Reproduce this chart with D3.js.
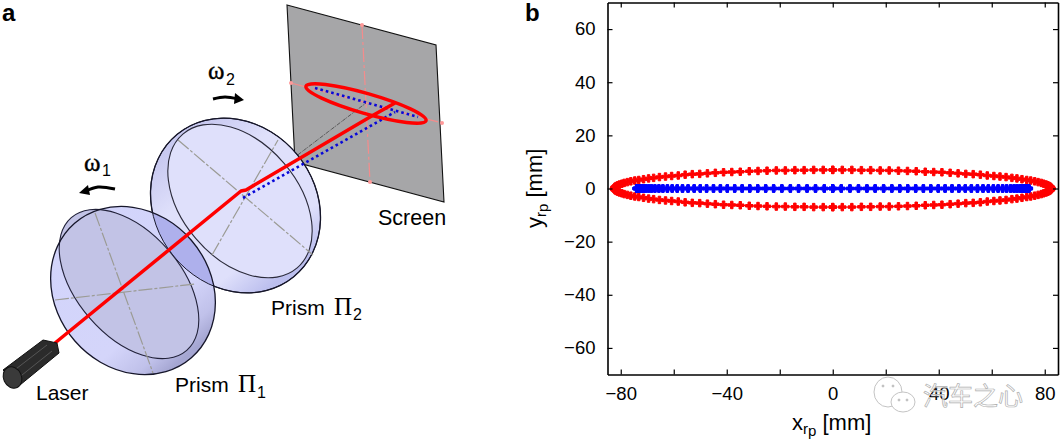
<!DOCTYPE html>
<html>
<head>
<meta charset="utf-8">
<script src="https://cdn.jsdelivr.net/npm/d3@7"></script>
<style>
  html, body { margin: 0; padding: 0; background: #fff; }
  svg { display: block; }
  text { font-family: "Liberation Sans", Arial, sans-serif; fill: #000; }
</style>
</head>
<body>
<svg id="chart" width="1060" height="440"></svg>
<script>
// panel b values, one quadrant of each trace in mm (the traces are symmetric)
const redX = [82.5, 82.4, 82.2, 81.8, 81.2, 80.5, 79.6, 78.7, 77.5, 76.2, 74.7, 73.2, 71.4, 69.5, 67.6, 65.4, 63.1, 60.8, 58.3, 55.7, 53.0, 50.2, 47.3, 44.3, 41.2, 38.1, 34.9, 31.5, 28.2, 24.8, 21.3, 17.9, 14.3, 10.8, 7.2, 3.6, 0];
const redY = [0, 0.3, 0.6, 0.9, 1.2, 1.5, 1.8, 2.1, 2.4, 2.7, 3.0, 3.2, 3.5, 3.8, 4.0, 4.3, 4.5, 4.7, 4.9, 5.2, 5.4, 5.5, 5.7, 5.9, 6.1, 6.2, 6.3, 6.5, 6.6, 6.7, 6.8, 6.8, 6.9, 6.9, 7.0, 7.0, 7.0];
const blueX = [74.0, 73.9, 73.7, 73.4, 72.9, 72.2, 71.5, 70.6, 69.5, 68.4, 67.1, 65.6, 64.1, 62.4, 60.6, 58.7, 56.7, 54.6, 52.3, 50.0, 47.6, 45.0, 42.4, 39.8, 37.0, 34.2, 31.3, 28.3, 25.3, 22.3, 19.2, 16.0, 12.9, 9.7, 6.5, 3.2, 0];
const xTicks = [-80, -60, -40, -20, 0, 20, 40, 60, 80];
const xLabels = [-80, -40, 0, 40, 80];
const yTicks = [-60, -40, -20, 0, 20, 40, 60];

// panel a outlines, in picture pixels
const screenCorners = [[287, 5], [436, 45], [444, 202], [295, 162]];
const prism2Outer = { cx: 235.5, cy: 205.5, rx: 92, ry: 80, angle: 50.7 };
const prism2Inner = { cx: 240, cy: 201, rx: 88, ry: 58, angle: 49.5 };
const prism1Outer = { cx: 133, cy: 290.5, rx: 89, ry: 77, angle: 49 };
const prism1Inner = { cx: 129, cy: 284, rx: 88, ry: 52, angle: 49 };
const crossLines = [
  [[178, 140], [313, 255]], [[212, 255], [278, 140]],
  [[55, 300], [195, 284]], [[95, 213], [153, 373]]
];
const pinkLines = [[[362, 25], [370, 182]], [[291, 83], [442, 123]]];
const redBeam = [[55, 343], [241, 191], [246, 190], [370, 117], [395, 103]];
const blueBeam = [[243, 198], [395, 112]];
const blueOnScreen = [[315, 88], [418, 117]];
const thinBeam = [[178, 240], [243, 192], [295, 157], [366, 103]];
const laserBody = [[3, 370], [43, 340], [57, 343], [59, 353], [20, 385]];

const svg = d3.select('#chart');
const line = d3.line();
const openCurve = d3.line().curve(d3.curveCatmullRom.alpha(0.5));

const defs = svg.append('defs');
function addGradient(id, stops) {
  const g = defs.append('linearGradient').attr('id', id)
    .attr('gradientUnits', 'userSpaceOnUse')
    .attr('x1', stops[0][0]).attr('x2', stops[stops.length - 1][0])
    .attr('y1', 0).attr('y2', 0);
  const span = stops[stops.length - 1][0] - stops[0][0];
  stops.forEach(s => g.append('stop')
    .attr('offset', (s[0] - stops[0][0]) / span)
    .attr('stop-color', s[1]));
}
addGradient('side2', [[151, '#c8c9f0'], [200, '#dfe0fb'], [285, '#dfe0fb'], [320, '#bcbfee']]);
addGradient('side1', [[48, '#d2d4fb'], [165, '#d4d5fa'], [198, '#c0c1ea'], [217, '#a5a6d2']]);

function disc(parent, e) {
  return parent.append('ellipse')
    .attr('cx', e.cx).attr('cy', e.cy).attr('rx', e.rx).attr('ry', e.ry)
    .attr('transform', `rotate(${e.angle} ${e.cx} ${e.cy})`);
}
disc(defs.append('clipPath').attr('id', 'inPrism2'), prism2Outer);

// ---------- panel a ----------
const a = svg.append('g');

a.append('path').attr('d', line(screenCorners) + 'Z')
  .attr('fill', '#a6a6a8').attr('stroke', '#111').attr('stroke-width', 1.1);

pinkLines.forEach(l => {
  a.append('path').attr('d', line(l)).attr('fill', 'none')
    .attr('stroke', '#f48c8c').attr('stroke-width', 1.2).attr('stroke-dasharray', '14 3 3 3');
  l.forEach(p => a.append('circle').attr('cx', p[0]).attr('cy', p[1]).attr('r', 2).attr('fill', '#f99'));
});

a.append('path').attr('d', line(thinBeam)).attr('fill', 'none')
  .attr('stroke', '#222').attr('stroke-width', 0.6).attr('stroke-dasharray', '4 1 1 1');

// Prism 2 sits behind prism 1
disc(a, prism2Outer).attr('fill', 'url(#side2)').attr('stroke', '#16162a').attr('stroke-width', 1.3);
disc(a, prism2Inner).attr('fill', '#dfe0fb').attr('stroke', '#2a2a3a').attr('stroke-width', 1.1);

disc(a, prism1Outer).attr('fill', 'url(#side1)');
// the part of prism 1 that overlaps prism 2 is darker
a.append('g').attr('clip-path', 'url(#inPrism2)').call(g => disc(g, prism1Outer).attr('fill', '#aeb0ec'));
disc(a, prism2Outer).attr('fill', 'none').attr('stroke', '#16162a').attr('stroke-width', 0.9);
disc(a, prism1Inner).attr('fill', '#c2c3e6').attr('stroke', '#22223a').attr('stroke-width', 1.1);
disc(a, prism1Outer).attr('fill', 'none').attr('stroke', '#16162a').attr('stroke-width', 1.3);

crossLines.forEach(l => a.append('path').attr('d', line(l))
  .attr('stroke', '#9b9b94').attr('stroke-width', 1.2).attr('stroke-dasharray', '14 2 3 2'));

// Beams and their spots
a.append('path').attr('d', line(blueBeam)).attr('fill', 'none')
  .attr('stroke', '#0808d8').attr('stroke-width', 2.6).attr('stroke-dasharray', '2.6 3');
a.append('path').attr('d', line(blueOnScreen)).attr('fill', 'none')
  .attr('stroke', '#0808d8').attr('stroke-width', 2.6).attr('stroke-dasharray', '2.6 3');
a.append('ellipse').attr('cx', 366).attr('cy', 103.5).attr('rx', 62.5).attr('ry', 10)
  .attr('transform', 'rotate(16 366 103.5)')
  .attr('fill', 'none').attr('stroke', '#f00').attr('stroke-width', 3.4);
a.append('path').attr('d', line(redBeam)).attr('fill', 'none')
  .attr('stroke', '#f00').attr('stroke-width', 3.5).attr('stroke-linejoin', 'round');

// Laser
a.append('path').attr('d', line(laserBody) + 'Z').attr('fill', '#2b2b2b').attr('stroke', '#111');
[[[12, 372], [47, 345]], [[17, 379], [52, 351]]].forEach(l =>
  a.append('path').attr('d', line(l)).attr('stroke', '#555').attr('stroke-width', 1));
a.append('ellipse').attr('cx', 12.5).attr('cy', 377.5).attr('rx', 9).attr('ry', 11)
  .attr('transform', 'rotate(-25 12.5 377.5)')
  .attr('fill', '#3a3a3a').attr('stroke', '#111');

// Rotation arrows
a.append('path').attr('d', openCurve([[213, 99], [225, 97], [238, 99]]))
  .attr('fill', 'none').attr('stroke', '#000').attr('stroke-width', 3);
a.append('path').attr('d', line([[235, 93], [244, 100], [234, 104]]) + 'Z').attr('fill', '#000');
a.append('path').attr('d', openCurve([[115, 189], [98, 187], [86, 191]]))
  .attr('fill', 'none').attr('stroke', '#000').attr('stroke-width', 3);
a.append('path').attr('d', line([[88, 185], [79, 193], [90, 195]]) + 'Z').attr('fill', '#000');

// Text of panel a
function label(x, y, size, str, family, weight) {
  return svg.append('text').attr('x', x).attr('y', y).attr('font-size', size)
    .style('font-family', family || null).attr('font-weight', weight || null).text(str);
}
const serif = '"Liberation Serif", serif';
label(2, 20.5, 24, 'a', null, 'bold');
label(525, 20.5, 24, 'b', null, 'bold');
label(208, 79, 25, 'ω', serif).attr('stroke', '#000').attr('stroke-width', 0.4);
label(226, 85, 16, '2');
label(84, 170.5, 25, 'ω', serif).attr('stroke', '#000').attr('stroke-width', 0.4);
label(102, 176, 16, '1');
label(36, 400, 21, 'Laser');
label(378, 225, 21.5, 'Screen');
label(175, 392, 21, 'Prism');
label(238, 392, 25, 'Π', serif);
label(257, 398, 16, '1');
label(271, 315, 21, 'Prism');
label(334, 315, 25, 'Π', serif);
label(353, 320, 16, '2');

// ---------- panel b ----------
const x = d3.scaleLinear().domain([-85, 85]).range([607.5, 1058]);
const y = d3.scaleLinear().domain([-70, 70]).range([374.5, 2.5]);

function quadrants(xs, ys) {
  return [
    ...xs.map((v, i) => [v, ys[i]]),
    ...xs.map((v, i) => [-v, ys[i]]).reverse(),
    ...xs.map((v, i) => [-v, -ys[i]]),
    ...xs.map((v, i) => [v, -ys[i]]).reverse()
  ];
}
const redPts = quadrants(redX, redY);
const bluePts = quadrants(blueX, blueX.map(() => 0));
const trace = d3.line().x(d => x(d[0])).y(d => y(d[1]));
const cross = d3.symbol().type(d3.symbolCross).size(31);

const b = svg.append('g');
[[redPts, '#f00'], [bluePts, '#00f']].forEach(([pts, colour]) => {
  b.append('path').attr('d', trace(pts)).attr('fill', 'none').attr('stroke', colour).attr('stroke-width', 1);
  b.selectAll(null).data(pts).enter().append('path')
    .attr('d', cross)
    .attr('transform', d => `translate(${x(d[0])},${y(d[1])})`)
    .attr('fill', colour).attr('stroke', colour).attr('stroke-width', 1);
});

// Box with inward ticks on all four sides
const fmt = d3.format('d');
const xFmt = d => xLabels.includes(d) ? fmt(d) : '';
function styleAxis(g) {
  g.selectAll('path,line').attr('stroke', '#000');
  g.select('.domain').attr('stroke-width', 1.6);
  g.selectAll('line').attr('stroke-width', 1.2);
  g.selectAll('text').attr('font-size', 18.5).style('font-family', '"Liberation Sans", Arial, sans-serif').attr('fill', '#000');
}
svg.append('g').attr('transform', `translate(0,${y(-70)})`)
  .call(d3.axisBottom(x).tickValues(xTicks).tickFormat(xFmt).tickSizeInner(-5).tickSizeOuter(0).tickPadding(12))
  .call(styleAxis);
svg.append('g').attr('transform', `translate(0,${y(70)})`)
  .call(d3.axisTop(x).tickValues(xTicks).tickFormat('').tickSizeInner(-5).tickSizeOuter(0))
  .call(styleAxis);
svg.append('g').attr('transform', `translate(${x(-85)},0)`)
  .call(d3.axisLeft(y).tickValues(yTicks).tickFormat(fmt).tickSizeInner(-5).tickSizeOuter(0).tickPadding(12))
  .call(styleAxis);
svg.append('g').attr('transform', `translate(${x(85)},0)`)
  .call(d3.axisRight(y).tickValues(yTicks).tickFormat('').tickSizeInner(-5).tickSizeOuter(0))
  .call(styleAxis);

// Axis titles with nested subscripts
function axisTitle(sel, base) {
  sel.attr('font-size', 22);
  sel.append('tspan').text(base);
  sel.append('tspan').attr('font-size', 15).attr('dy', 4).text('r');
  sel.append('tspan').attr('font-size', 15).attr('dy', 2).text('p');
  sel.append('tspan').attr('dy', -6).text(' [mm]');
}
svg.append('text').attr('x', 792).attr('y', 430).call(axisTitle, 'x');
svg.append('text').attr('transform', 'translate(542,228) rotate(-90)').call(axisTitle, 'y');

// Watermark
const mark = svg.append('g').attr('fill', 'none').attr('stroke', '#c4c4c4').attr('stroke-width', 1);
mark.append('ellipse').attr('cx', 888).attr('cy', 392).attr('rx', 14).attr('ry', 15).attr('fill', '#fff').attr('fill-opacity', 0.8);
mark.append('ellipse').attr('cx', 903).attr('cy', 402).attr('rx', 12).attr('ry', 10).attr('fill', '#fff');
[[883, 386], [893, 386], [899, 400], [907, 400]].forEach(p =>
  mark.append('circle').attr('cx', p[0]).attr('cy', p[1]).attr('r', 1).attr('fill', '#aaa'));
svg.append('text').attr('x', 923).attr('y', 405).attr('font-size', 25)
  .style('font-family', '"Noto Sans CJK SC"')
  .style('fill', '#fff').style('fill-opacity', 0.6).attr('stroke', '#b0b0b0').attr('stroke-width', 0.7)
  .text('汽车之心');
</script>
</body>
</html>
